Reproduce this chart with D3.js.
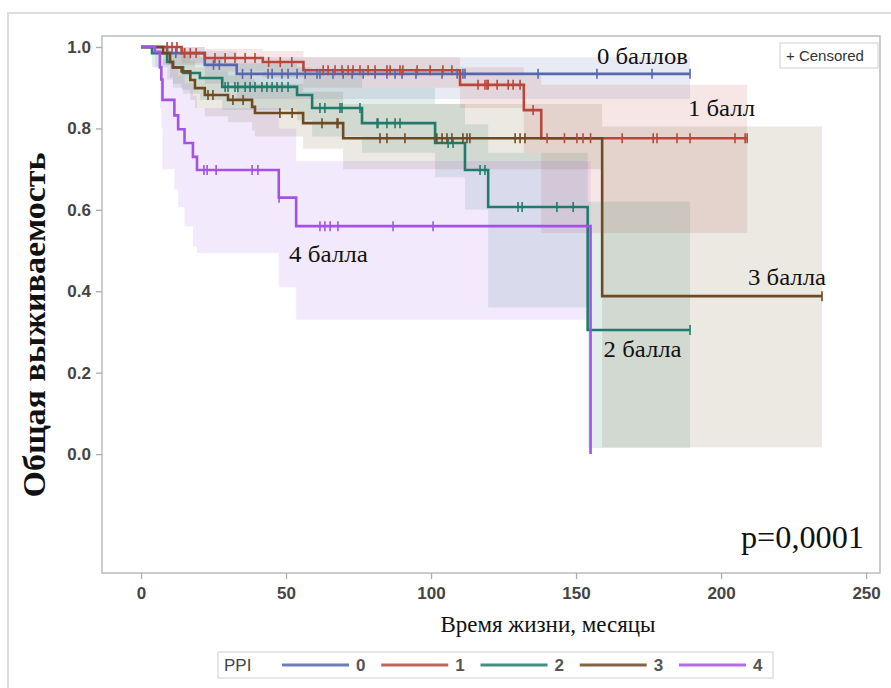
<!DOCTYPE html>
<html><head><meta charset="utf-8">
<script src="https://cdn.jsdelivr.net/npm/d3@7"></script>
<style>body{margin:0;background:#fff}svg{display:block}</style>
</head><body>
<svg id="chart" width="891" height="688"></svg>
<script>
// ---------------- data ----------------
const groups = ["0", "1", "2", "3", "4"];
const groupLabels = ["0 баллов", "1 балл", "2 балла", "3 балла", "4 балла"];
const colors = ["#5667ad", "#b8473b", "#1f7c6d", "#6e4a22", "#a452e6"];

// PPI = 0
const time0 = [0, 9, 22, 33];
const surv0 = [1.0, 0.985, 0.956, 0.934];
const lo0   = [1.0, 0.955, 0.91, 0.872];
const hi0   = [1.0, 1.0, 0.99, 0.975];
const end0  = 189.3;
const cens0 = [12, 15, 25, 27, 35, 38, 43.8, 45.2, 48.6, 50.7, 53.8, 56.6, 60.7, 61.7, 66.2, 69.7, 72.8, 76.6, 80.7, 84.8, 87.6, 90, 94.8, 103.8, 109, 111, 111.7, 136.9, 157.2, 176.2, 189.3];

// PPI = 1
const time1 = [0, 14, 22, 42, 56, 110, 132, 138];
const surv1 = [1.0, 0.985, 0.973, 0.963, 0.943, 0.907, 0.845, 0.776];
const lo1   = [1.0, 0.96, 0.94, 0.925, 0.90, 0.85, 0.74, 0.543];
const hi1   = [1.0, 1.0, 0.995, 0.99, 0.975, 0.95, 0.93, 0.907];
const end1  = 209;
const cens1 = [9, 10.7, 12.4, 15, 17, 19, 25.5, 29, 32.4, 35.9, 39.3, 44, 48, 52, 62.8, 64.5, 66.9, 69.3, 71.4, 73.1, 75.5, 78.3, 80.7, 84.8, 85.9, 89.3, 90.3, 95.2, 99.7, 104.1, 107.2, 116.2, 118.6, 119.3, 119.7, 122.8, 126.6, 128.3, 130.7, 135.2, 140, 146, 150.3, 152.4, 155, 165.9, 176.6, 177.9, 184.8, 189.3, 204.8, 208.3, 209];

// PPI = 2
const time2 = [0, 3.8, 9, 11, 14.5, 20.3, 28, 53.8, 59, 76.2, 101.4, 111.7, 119.7, 154];
const surv2 = [1.0, 0.985, 0.963, 0.95, 0.936, 0.924, 0.902, 0.882, 0.85, 0.813, 0.764, 0.698, 0.607, 0.305];
const lo2   = [1.0, 0.95, 0.92, 0.90, 0.885, 0.87, 0.845, 0.82, 0.78, 0.74, 0.68, 0.60, 0.36, 0.015];
const hi2   = [1.0, 1.0, 0.99, 0.985, 0.98, 0.975, 0.96, 0.95, 0.93, 0.90, 0.86, 0.81, 0.74, 0.62];
const end2  = 189.3;
const cens2 = [29, 30, 32.4, 33.4, 35.9, 37.6, 39.3, 41.7, 43.4, 45.2, 46.9, 48.6, 50.7, 61.7, 63.4, 68.6, 69.3, 75.5, 81.4, 81.7, 84.8, 87.6, 89.3, 105.9, 107.6, 116.9, 118.6, 130, 131.4, 143.4, 149, 189.3];

// PPI = 3
const time3 = [0, 7.6, 10, 11, 14, 17, 18.6, 22, 30, 38.3, 39.3, 55.9, 69.7, 159];
const surv3 = [1.0, 0.985, 0.963, 0.95, 0.94, 0.919, 0.899, 0.882, 0.87, 0.853, 0.838, 0.813, 0.776, 0.388];
const lo3   = [1.0, 0.955, 0.925, 0.91, 0.895, 0.87, 0.85, 0.83, 0.815, 0.795, 0.78, 0.75, 0.70, 0.017];
const hi3   = [1.0, 1.0, 0.99, 0.985, 0.98, 0.965, 0.95, 0.94, 0.93, 0.92, 0.91, 0.89, 0.86, 0.805];
const end3  = 234.8;
const cens3 = [23.1, 24.8, 31.7, 35.2, 47.9, 52.1, 62.4, 67.6, 67.9, 82.4, 84.8, 91, 102, 103.8, 105.5, 107.2, 111, 112.4, 113.4, 129, 130.7, 132.4, 234.8];

// PPI = 4
const time4 = [0, 4.8, 6.5, 7.0, 7.4, 11.5, 12.8, 15, 17.9, 19.3, 47.5, 53.5, 155];
const surv4 = [1.0, 0.988, 0.95, 0.92, 0.87, 0.832, 0.798, 0.764, 0.73, 0.698, 0.63, 0.56, 0.0];
const lo4   = [1.0, 0.95, 0.85, 0.80, 0.70, 0.65, 0.607, 0.56, 0.51, 0.494, 0.41, 0.33, 0.0];
const hi4   = [1.0, 1.0, 1.0, 0.99, 0.97, 0.95, 0.93, 0.91, 0.88, 0.85, 0.80, 0.72, 0.0];
const end4  = 155;
const cens4 = [21.7, 22.8, 25.9, 38.3, 40.3, 47.6, 61.7, 63.4, 65.2, 67.9, 86.9, 100.7];

const xTicks = [0, 50, 100, 150, 200, 250];
const yTicks = [0.0, 0.2, 0.4, 0.6, 0.8, 1.0];
// annotation anchors (time, survival)
const labelT = [157.2, 188.6, 159.5, 209.3, 51];
const labelS = [0.957, 0.830, 0.238, 0.415, 0.472];
const labelW = [91, 67, 78, 78, 79];

const xTitle = "Время жизни, месяцы";
const yTitle = "Общая выживаемость";
const pText = "p=0,0001";

const series = [
  {t: time0, s: surv0, lo: lo0, hi: hi0, end: end0, c: cens0},
  {t: time1, s: surv1, lo: lo1, hi: hi1, end: end1, c: cens1},
  {t: time2, s: surv2, lo: lo2, hi: hi2, end: end2, c: cens2},
  {t: time3, s: surv3, lo: lo3, hi: hi3, end: end3, c: cens3},
  {t: time4, s: surv4, lo: lo4, hi: hi4, end: end4, c: cens4}
];

// ---------------- layout ----------------
const svg = d3.select("#chart");
const plot = {left: 102, right: 880, top: 36, bottom: 573};
const x = d3.scaleLinear().domain([-13.45, 254.8]).range([plot.left, plot.right]);
const y = d3.scaleLinear().domain([-0.292, 1.027]).range([plot.bottom, plot.top]);

// outer frame
svg.append("rect").attr("x", 8).attr("y", 13).attr("width", 900).attr("height", 700)
  .attr("fill", "none").attr("stroke", "#dcdcdc").attr("stroke-width", 2);

const clipId = "plotclip";
svg.append("clipPath").attr("id", clipId).append("rect")
  .attr("x", plot.left).attr("y", plot.top)
  .attr("width", plot.right - plot.left).attr("height", plot.bottom - plot.top);

const g = svg.append("g").attr("clip-path", `url(#${clipId})`);

// bands
const area = d3.area().curve(d3.curveStepAfter)
  .x(d => x(d.t)).y0(d => y(d.lo)).y1(d => y(d.hi));
series.forEach((sr, i) => {
  const pts = sr.t.map((t, k) => ({t, lo: sr.lo[k], hi: sr.hi[k]}));
  const last = pts[pts.length - 1];
  if (sr.end > last.t) pts.push({t: sr.end, lo: last.lo, hi: last.hi});
  g.append("path").datum(pts).attr("d", area)
    .attr("fill", colors[i]).attr("fill-opacity", 0.13).attr("stroke", "none");
});

// survival lines
const line = d3.line().curve(d3.curveStepAfter).x(d => x(d.t)).y(d => y(d.s));
series.forEach((sr, i) => {
  const pts = sr.t.map((t, k) => ({t, s: sr.s[k]}));
  const last = pts[pts.length - 1];
  if (sr.end > last.t) pts.push({t: sr.end, s: last.s});
  g.append("path").datum(pts).attr("d", line)
    .attr("fill", "none").attr("stroke", colors[i]).attr("stroke-width", 2.6)
    .attr("stroke-linejoin", "miter");
});

// censor marks
series.forEach((sr, i) => {
  const sAt = c => { let v = sr.s[0]; sr.t.forEach((t, k) => { if (t <= c) v = sr.s[k]; }); return v; };
  g.append("g").selectAll("line").data(sr.c).join("line")
    .attr("x1", d => x(d)).attr("x2", d => x(d))
    .attr("y1", d => y(sAt(d)) - 5).attr("y2", d => y(sAt(d)) + 5)
    .attr("stroke", colors[i]).attr("stroke-width", 1.6);
});

// plot frame
svg.append("rect").attr("x", plot.left).attr("y", plot.top)
  .attr("width", plot.right - plot.left).attr("height", plot.bottom - plot.top)
  .attr("fill", "none").attr("stroke", "#b7bdbd").attr("stroke-width", 1.5);

// axes
const yAxis = svg.append("g").attr("transform", `translate(${plot.left},0)`)
  .call(d3.axisLeft(y).tickValues(yTicks).tickFormat(d3.format(".1f")).tickSize(6).tickPadding(5));
const xAxis = svg.append("g").attr("transform", `translate(0,${plot.bottom})`)
  .call(d3.axisBottom(x).tickValues(xTicks).tickFormat(d3.format("d")).tickSize(6).tickPadding(8));
[yAxis, xAxis].forEach(a => {
  a.select(".domain").remove();
  a.selectAll(".tick line").attr("stroke", "#a8aeae").attr("stroke-width", 1.3);
  a.selectAll(".tick text").attr("fill", "#444").attr("font-family", "Liberation Sans, Arial, sans-serif")
    .attr("font-size", 17).attr("font-weight", "bold");
});

// titles
svg.append("text").attr("x", 548).attr("y", 632).attr("text-anchor", "middle")
  .attr("font-family", "Liberation Serif, Times New Roman, serif").attr("font-size", 24)
  .attr("textLength", 215).attr("lengthAdjust", "spacingAndGlyphs")
  .attr("fill", "#111").text(xTitle);
svg.append("text").attr("transform", "translate(45,325) rotate(-90)").attr("text-anchor", "middle")
  .attr("font-family", "Liberation Serif, Times New Roman, serif").attr("font-size", 31)
  .attr("font-weight", "bold").attr("textLength", 345).attr("lengthAdjust", "spacingAndGlyphs")
  .attr("fill", "#111").text(yTitle);

// p value
svg.append("text").attr("x", 741).attr("y", 548)
  .attr("font-family", "Liberation Serif, Times New Roman, serif").attr("font-size", 31)
  .attr("textLength", 123).attr("lengthAdjust", "spacingAndGlyphs")
  .attr("fill", "#111").text(pText);

// curve labels
groupLabels.forEach((lab, i) => {
  svg.append("text").attr("x", x(labelT[i])).attr("y", y(labelS[i]))
    .attr("font-family", "Liberation Serif, Times New Roman, serif").attr("font-size", 23)
    .attr("textLength", labelW[i]).attr("lengthAdjust", "spacingAndGlyphs")
    .attr("fill", "#111").text(lab);
});

// censored legend box
const cg = svg.append("g");
cg.append("rect").attr("x", 780).attr("y", 43).attr("width", 98).attr("height", 25)
  .attr("fill", "#fff").attr("stroke", "#d0d0d0").attr("stroke-width", 1);
cg.append("text").attr("x", 786).attr("y", 61)
  .attr("font-family", "Liberation Sans, Arial, sans-serif").attr("font-size", 15)
  .attr("fill", "#333").text("+ Censored");

// bottom legend
const lg = svg.append("g");
lg.append("rect").attr("x", 218).attr("y", 652).attr("width", 555).attr("height", 26)
  .attr("fill", "#fff").attr("stroke", "#cfcfcf").attr("stroke-width", 1);
lg.append("text").attr("x", 224).attr("y", 671)
  .attr("font-family", "Liberation Sans, Arial, sans-serif").attr("font-size", 17)
  .attr("fill", "#444").text("PPI");
const legX = d3.scalePoint().domain(groups).range([282, 679]);
groups.forEach((gr, i) => {
  const x0 = legX(gr);
  lg.append("line").attr("x1", x0).attr("x2", x0 + 67).attr("y1", 665).attr("y2", 665)
    .attr("stroke", colors[i]).attr("stroke-width", 3).attr("stroke-opacity", 0.85);
  lg.append("text").attr("x", x0 + 74).attr("y", 671)
    .attr("font-family", "Liberation Sans, Arial, sans-serif").attr("font-size", 17)
    .attr("font-weight", "bold").attr("fill", "#555").text(gr);
});
</script>
</body></html>
